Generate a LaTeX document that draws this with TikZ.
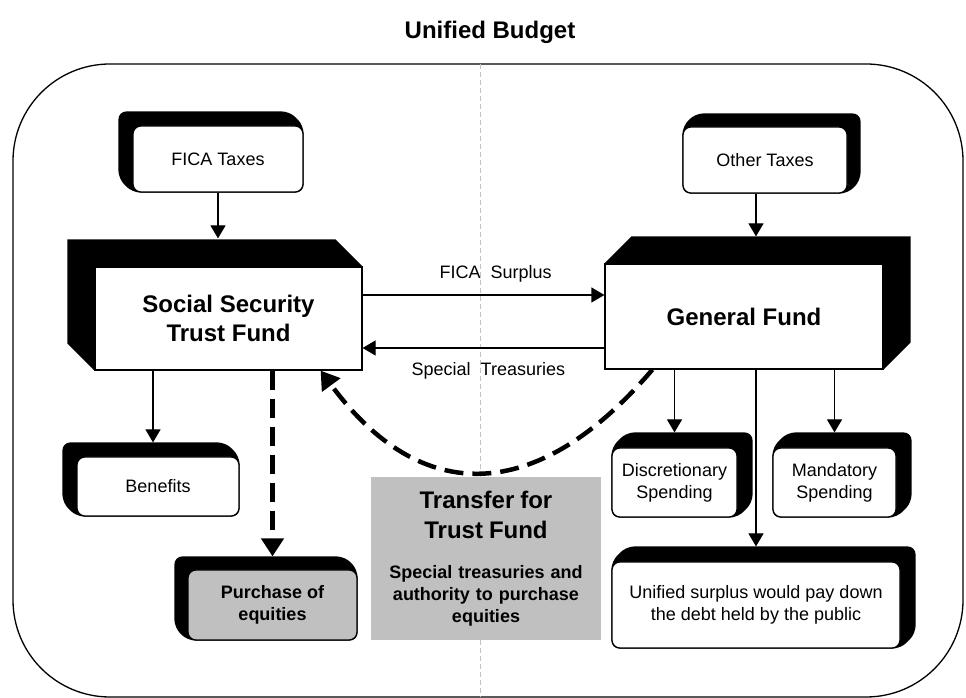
\documentclass[tikz,border=0pt]{standalone}
\usepackage{fontspec}
\setmainfont{Liberation Sans}
\usetikzlibrary{arrows.meta,backgrounds}

\definecolor{panelgray}{RGB}{192,192,192}
\definecolor{guidegray}{RGB}{196,196,196}

\tikzstyle{fund} = [draw=black, fill=white, line width=1.2pt, inner sep=0pt, align=center,
    font=\fontsize{24}{29}\selectfont\bfseries]
\tikzstyle{smallbox} = [draw=black, fill=white, line width=1.2pt, rounded corners=8pt,
    inner sep=0pt, align=center, font=\fontsize{18}{22}\selectfont]
\tikzstyle{slab} = [fill=black, rounded corners=8pt]
\tikzstyle{flow} = [line width=1.2pt, -{Triangle[length=13pt,width=15pt]}]
\tikzstyle{dashflow} = [line width=4.5pt, dash pattern=on 19pt off 9pt,
    -{Triangle[length=18pt,width=22pt]}]
\tikzstyle{flowlabel} = [inner sep=0pt, font=\fontsize{18}{22}\selectfont]

% black extrusion behind a box, towards the upper left / upper right
\newcommand{\slableft}[3][]{%
  \fill[slab,#1] ([shift={(-#3,#3)}]#2.north west) -- ([shift={(-#3,#3)}]#2.north east)
    -- (#2.north east) -- (#2.south east) -- (#2.south west)
    -- ([shift={(-#3,#3)}]#2.south west) -- cycle;}
\newcommand{\slabright}[3][]{%
  \fill[slab,#1] ([shift={(#3,#3)}]#2.north west) -- ([shift={(#3,#3)}]#2.north east)
    -- ([shift={(#3,#3)}]#2.south east) -- (#2.south east) -- (#2.south west)
    -- (#2.north west) -- cycle;}

\begin{document}
\begin{tikzpicture}[x=1pt,y=1pt]
\useasboundingbox (0,0) rectangle (966,698);
\node[font=\fontsize{24}{29}\selectfont\bfseries] (title) at (490,666) {Unified Budget};

% trust fund side
\node[smallbox, minimum width=170pt, minimum height=66pt] (fica) at (218,539) {FICA Taxes};
\node[fund, minimum width=267pt, minimum height=103pt] (ssf) at (228.5,379.5) {Social Security\\Trust Fund};
\node[smallbox, minimum width=162pt, minimum height=59pt] (ben) at (158,211.5) {Benefits};
\node[smallbox, fill=panelgray, font=\fontsize{18}{22}\selectfont\bfseries,
    minimum width=169pt, minimum height=70pt] (pur) at (272.5,93) {Purchase of\\equities};

% general fund side
\node[smallbox, minimum width=164pt, minimum height=66pt] (other) at (765,538) {Other Taxes};
\node[fund, minimum width=278pt, minimum height=105pt] (gf) at (744,381.5) {General Fund};
\node[smallbox, minimum width=125pt, minimum height=69pt] (dis) at (674.5,215.5) {Discretionary\\Spending};
\node[smallbox, minimum width=123pt, minimum height=69pt] (man) at (834.5,215.5) {Mandatory\\Spending};
\node[smallbox, minimum width=288pt, minimum height=86pt] (uni) at (756,93)
    {Unified surplus would pay down\\the debt held by the public};

\node[fill=panelgray, minimum width=230pt, minimum height=163pt, inner sep=0pt,
    text width=220pt, align=center, font=\fontsize{18}{22}\selectfont\bfseries] (tr) at (486,139.5)
    {{\fontsize{24}{30}\selectfont Transfer for\\Trust Fund\par}\vspace{18pt}
     Special treasuries and\\authority to purchase\\equities};

\begin{scope}[on background layer]
  \draw[line width=1.3pt, rounded corners=97pt] (13,1) rectangle (963,634);
  \draw[guidegray, line width=0.8pt, dash pattern=on 5pt off 3pt] (480,634) -- (480,1);
  \slableft{fica}{14}
  \slableft[sharp corners]{ssf}{27}
  \slableft{ben}{14}
  \slableft{pur}{13}
  \slabright{other}{13}
  \slabright[sharp corners]{gf}{27}
  \slabright{dis}{15}
  \slabright{man}{15}
  \slabright{uni}{15}
\end{scope}

% tops of the extrusions
\coordinate (ssftop) at ([yshift=28pt]ssf.north);
\coordinate (gftop) at ([yshift=27pt]gf.north);
\coordinate (bentop) at ([shift={(-5pt,14pt)}]ben.north);
\coordinate (purtop) at ([yshift=13pt]pur.north);
\coordinate (distop) at ([yshift=15pt]dis.north);
\coordinate (mantop) at ([yshift=15pt]man.north);
\coordinate (unitop) at ([yshift=15pt]uni.north);
\coordinate (surplus) at ([yshift=23.5pt]ssf.east);
\coordinate (special) at ([yshift=-31.5pt]gf.west);

\draw[flow] (fica.south) -- (fica.south |- ssftop);
\draw[flow] (other.south -| unitop) -- (gftop -| unitop);
\draw[flow] (surplus) -- node[flowlabel, pos=0.55, above=12pt] {FICA~~Surplus} (surplus -| gf.west);
\draw[flow] (special) -- node[flowlabel, pos=0.48, below=14pt] {Special~~Treasuries} (special -| ssf.east);
\draw[flow] (ssf.south -| bentop) -- (bentop);
\draw[dashflow] (ssf.south -| purtop) -- (purtop);
\draw[flow] (gf.south -| distop) -- (distop);
\draw[flow] (gf.south -| unitop) -- (unitop);
\draw[flow] (gf.south -| mantop) -- (mantop);
\draw[dashflow] ([xshift=48pt]gf.south west) .. controls (536,192) and (420,192) .. ([xshift=-42pt]ssf.south east);
\end{tikzpicture}
\end{document}
